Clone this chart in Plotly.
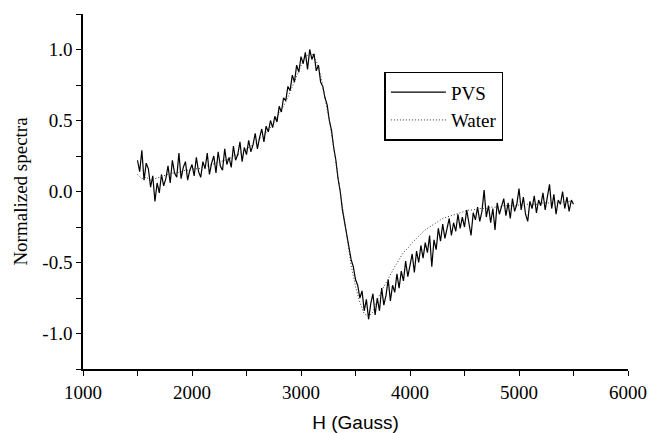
import plotly.graph_objects as go

# ---- data ----
pvs_h_start, pvs_h_step = 1500, 20
pvs_values = [
    0.22, 0.14, 0.29, 0.08, 0.20, 0.16, 0.03, 0.11, -0.07, 0.06,
    -0.01, 0.12, 0.04, 0.09, 0.18, 0.06, 0.22, 0.13, 0.10, 0.27,
    0.09, 0.17, 0.21, 0.08, 0.15, 0.19, 0.11, 0.24, 0.14, 0.10,
    0.21, 0.16, 0.27, 0.12, 0.20, 0.25, 0.13, 0.28, 0.18, 0.15,
    0.30, 0.19, 0.24, 0.17, 0.32, 0.22, 0.26, 0.35, 0.21, 0.31,
    0.26, 0.36, 0.28, 0.33, 0.41, 0.30, 0.38, 0.44, 0.35, 0.46,
    0.42, 0.50, 0.45, 0.53, 0.49, 0.60, 0.56, 0.66, 0.64, 0.74,
    0.71, 0.82, 0.77, 0.89, 0.84, 0.95, 0.90, 0.98, 0.86, 1.00,
    0.93, 0.97, 0.85, 0.89, 0.77, 0.74, 0.66, 0.61, 0.50, 0.43,
    0.31, 0.22, 0.09, 0.00, -0.13, -0.22, -0.33, -0.39, -0.48, -0.53,
    -0.62, -0.66, -0.75, -0.70, -0.84, -0.76, -0.90, -0.79, -0.72, -0.87,
    -0.75, -0.84, -0.68, -0.80, -0.73, -0.62, -0.77, -0.66, -0.71, -0.58,
    -0.68, -0.56, -0.63, -0.49, -0.60, -0.52, -0.44, -0.57, -0.42, -0.50,
    -0.38, -0.47, -0.36, -0.43, -0.31, -0.53, -0.34, -0.41, -0.26, -0.35,
    -0.23, -0.33, -0.27, -0.19, -0.31, -0.22, -0.28, -0.16, -0.26, -0.18,
    -0.25, -0.13, -0.22, -0.31, -0.15, -0.20, -0.11, -0.21, -0.14, 0.01,
    -0.18, -0.10, -0.22, -0.12, -0.27, -0.08, -0.16, -0.11, -0.05, -0.17,
    -0.08, -0.19, -0.05, -0.14, -0.09, 0.02, -0.13, -0.04, -0.16, -0.21,
    -0.07, -0.12, -0.03, -0.15, -0.06, -0.10, -0.01, -0.13, -0.05, 0.05,
    -0.12, -0.02, -0.16, -0.06, -0.09, 0.00, -0.12, -0.04, -0.14, -0.06,
    -0.09,
]

water_h_start, water_h_step = 1500, 40
water_values = [
    0.12, 0.09, 0.10, 0.08, 0.09, 0.10, 0.11, 0.12, 0.13, 0.13,
    0.14, 0.15, 0.15, 0.16, 0.16, 0.17, 0.18, 0.19, 0.20, 0.21,
    0.22, 0.23, 0.25, 0.26, 0.28, 0.30, 0.32, 0.34, 0.37, 0.40,
    0.43, 0.47, 0.52, 0.57, 0.63, 0.70, 0.78, 0.85, 0.92, 0.96,
    0.97, 0.92, 0.82, 0.67, 0.50, 0.31, 0.10, -0.12, -0.33, -0.52,
    -0.67, -0.78, -0.86, -0.88, -0.85, -0.76, -0.70, -0.64, -0.58, -0.53,
    -0.48, -0.43, -0.40, -0.36, -0.33, -0.30, -0.27, -0.25, -0.23, -0.21,
    -0.19, -0.18, -0.17, -0.16, -0.15, -0.14, -0.13, -0.13, -0.12, -0.12,
    -0.12, -0.11, -0.11, -0.11, -0.10, -0.10, -0.10, -0.10, -0.09, -0.09,
    -0.09, -0.09, -0.09, -0.08, -0.08, -0.08, -0.08, -0.08, -0.07, -0.07,
    -0.07,
]

series_names = ["PVS", "Water"]
x_ticks = [1000, 2000, 3000, 4000, 5000, 6000]
y_ticks = [-1.0, -0.5, 0.0, 0.5, 1.0]

pvs_h = [pvs_h_start + pvs_h_step * i for i in range(len(pvs_values))]
water_h = [water_h_start + water_h_step * i for i in range(len(water_values))]

serif = "Liberation Serif"
sans = "Liberation Sans"

fig = go.Figure()
fig.add_trace(go.Scatter(x=pvs_h, y=pvs_values, mode="lines", name=series_names[0],
                         line=dict(color="black", width=1.2)))
fig.add_trace(go.Scatter(x=water_h, y=water_values, mode="lines", name=series_names[1],
                         line=dict(color="#333333", width=1, dash="1px,2px")))

axis_common = dict(showline=True, linecolor="black", linewidth=1.5, ticks="outside",
                   ticklen=5, tickwidth=1.2, tickcolor="black", showgrid=False,
                   zeroline=False, mirror=False, automargin=False,
                   tickfont=dict(family=serif, size=19, color="black"))

fig.update_xaxes(range=[1000, 6000], tickvals=x_ticks, ticktext=[str(v) for v in x_ticks],
                 minor=dict(dtick=500, ticks="outside", ticklen=5, tickwidth=1.2, tickcolor="black"),
                 title=dict(text="H (Gauss)", font=dict(family=sans, size=19, color="black"), standoff=18),
                 **axis_common)
fig.update_yaxes(range=[-1.25, 1.25], tickvals=y_ticks, ticktext=[f"{v:.1f}" for v in y_ticks],
                 minor=dict(dtick=0.25, ticks="outside", ticklen=5, tickwidth=1.2, tickcolor="black"),
                 title=dict(text="Normalized spectra", font=dict(family=serif, size=19, color="black"), standoff=10),
                 **axis_common)

fig.update_layout(
    width=648, height=433,
    margin=dict(l=83, r=20, t=14, b=64),
    paper_bgcolor="white", plot_bgcolor="white",
    showlegend=True,
    legend=dict(x=0.553, y=0.837, xanchor="left", yanchor="top",
                bordercolor="black", borderwidth=1.5, bgcolor="white",
                font=dict(family=serif, size=19, color="black"),
                itemwidth=55, tracegroupgap=2),
)

fig.write_html("out.html")
